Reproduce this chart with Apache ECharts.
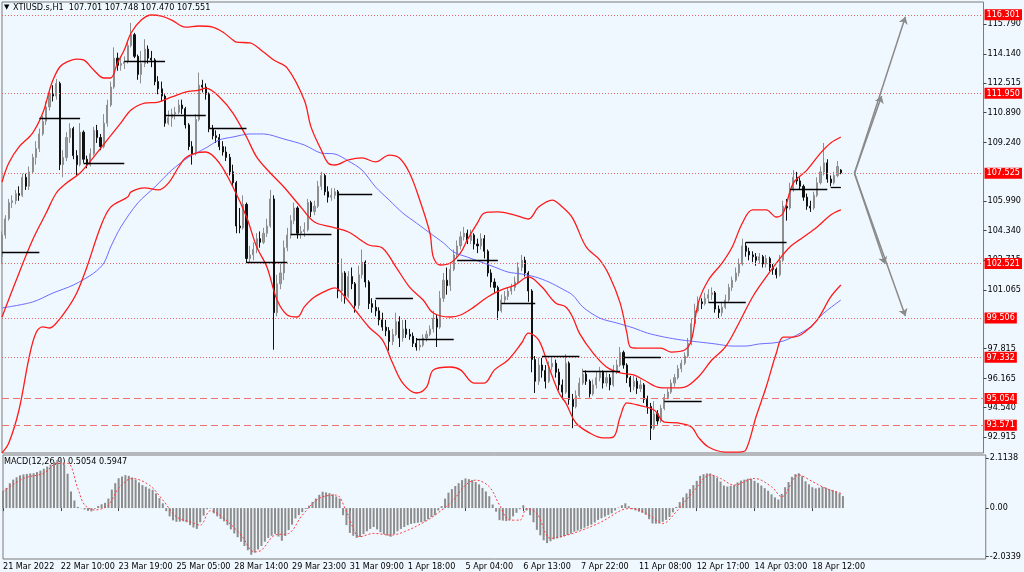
<!DOCTYPE html>
<html><head><meta charset="utf-8">
<script src="https://cdn.jsdelivr.net/npm/echarts@6.0.0/dist/echarts.min.js"></script>
<style>html,body{margin:0;padding:0;background:#f0f8ff}#c{width:1024px;height:572px}</style>
</head><body><div id="c"></div><script>
// ---- data ----
const tickLabels = ['21 Mar 2022','22 Mar 10:00','23 Mar 19:00','25 Mar 05:00','28 Mar 14:00','29 Mar 23:00','31 Mar 09:00','1 Apr 18:00','5 Apr 04:00','6 Apr 13:00','7 Apr 22:00','11 Apr 08:00','12 Apr 17:00','14 Apr 03:00','18 Apr 12:00'];
const priceTicks = [115.790,114.140,112.515,110.890,109.240,105.990,104.340,102.715,101.065,97.815,96.165,94.540,92.915];
const macdTicks = [2.1138,0,-2.0339];
const opens = [
102.9,104.1,105.0,105.9,106.0,106.4,106.3,107.3,106.8,107.6,
108.4,108.9,109.7,110.4,111.2,111.9,111.8,112.5,108.0,108.4,
109.5,110.0,108.5,108.0,109.8,108.3,108.0,108.6,109.9,109.5,
109.0,110.3,111.3,112.3,113.9,113.5,113.6,113.7,114.6,115.2,
114.0,113.0,113.6,114.4,113.9,113.8,112.6,112.2,111.8,110.3,
110.6,110.8,110.9,111.3,111.1,110.2,109.0,108.6,110.5,112.4,
112.3,111.9,110.0,109.6,109.5,109.0,108.7,108.4,107.6,107.0,
104.6,104.5,105.8,102.8,103.0,103.3,103.9,103.7,104.2,104.6,
106.1,99.8,101.4,102.0,103.4,104.1,104.9,105.6,104.2,104.3,
104.4,105.9,105.4,105.7,106.8,107.4,106.5,106.2,106.3,106.5,
101.0,102.0,100.7,101.8,101.4,100.2,101.9,102.6,101.5,100.3,
100.1,99.9,99.4,99.0,98.8,98.2,98.6,99.3,98.4,98.9,
98.6,98.5,98.1,97.9,98.0,98.4,98.6,98.9,99.5,99.0,
100.6,101.6,101.3,102.2,103.0,103.5,104.0,104.2,103.8,104.1,
103.6,103.5,103.9,103.2,102.0,101.5,101.2,99.9,100.5,100.7,
101.0,101.2,101.5,102.3,102.7,102.0,101.0,97.2,96.0,96.9,
96.6,96.0,96.8,97.0,96.5,95.8,95.4,97.0,95.0,94.6,
95.2,95.9,96.4,96.0,95.3,95.8,96.2,96.5,95.9,96.2,
95.8,96.6,96.9,97.6,96.9,96.2,95.7,96.0,95.6,95.8,
95.0,94.6,93.4,94.2,93.8,94.5,95.1,95.4,95.9,96.2,
96.7,97.0,97.4,98.1,99.2,99.9,100.4,100.3,100.6,100.8,
100.9,100.0,99.8,100.1,100.5,101.2,101.6,102.0,102.5,103.5,
103.2,103.0,102.9,102.7,102.9,102.5,102.8,102.3,102.2,101.9,
102.7,105.7,105.6,106.6,107.3,107.1,106.8,106.2,105.7,105.6,
106.3,107.0,107.6,108.1,107.2,107.0,107.4,107.701];
const closes = [
104.1,105.0,105.9,106.0,106.4,106.3,107.3,106.8,107.6,108.4,
108.9,109.7,110.4,111.2,111.9,111.8,112.5,108.0,108.4,109.5,
110.0,108.5,108.0,109.8,108.3,108.0,108.6,109.9,109.5,109.0,
110.3,111.3,112.3,113.9,113.5,113.6,113.7,114.6,115.2,114.0,
113.0,113.6,114.4,113.9,113.8,112.6,112.2,111.8,110.3,110.6,
110.8,110.9,111.3,111.1,110.2,109.0,108.6,110.5,112.4,112.3,
111.9,110.0,109.6,109.5,109.0,108.7,108.4,107.6,107.0,104.6,
104.5,105.8,102.8,103.0,103.3,103.9,103.7,104.2,104.6,106.1,
99.8,101.4,102.0,103.4,104.1,104.9,105.6,104.2,104.3,104.4,
105.9,105.4,105.7,106.8,107.4,106.5,106.2,106.3,106.5,101.0,
102.0,100.7,101.8,101.4,100.2,101.9,102.6,101.5,100.3,100.1,
99.9,99.4,99.0,98.8,98.2,98.6,99.3,98.4,98.9,98.6,
98.5,98.1,97.9,98.0,98.4,98.6,98.9,99.5,99.0,100.6,
101.6,101.3,102.2,103.0,103.5,104.0,104.2,103.8,104.1,103.6,
103.5,103.9,103.2,102.0,101.5,101.2,99.9,100.5,100.7,101.0,
101.2,101.5,102.3,102.7,102.0,101.0,97.2,96.0,96.9,96.6,
96.0,96.8,97.0,96.5,95.8,95.4,97.0,95.0,94.6,95.2,
95.9,96.4,96.0,95.3,95.8,96.2,96.5,95.9,96.2,95.8,
96.6,96.9,97.6,96.9,96.2,95.7,96.0,95.6,95.8,95.0,
94.6,93.4,94.2,93.8,94.5,95.1,95.4,95.9,96.2,96.7,
97.0,97.4,98.1,99.2,99.9,100.4,100.3,100.6,100.8,100.9,
100.0,99.8,100.1,100.5,101.2,101.6,102.0,102.5,103.5,103.2,
103.0,102.9,102.7,102.9,102.5,102.8,102.3,102.2,101.9,102.7,
105.7,105.6,106.6,107.3,107.1,106.8,106.2,105.7,105.6,106.3,
107.0,107.6,108.1,107.2,107.0,107.4,107.9,107.551];
const lows = [
102.5,103.9,104.9,105.6,105.8,106.0,106.2,106.6,106.6,107.5,
108.0,108.7,109.6,110.2,111.0,111.5,111.6,107.7,107.3,108.2,
109.2,108.3,107.4,107.9,108.1,107.8,107.9,108.5,109.2,108.8,
108.9,110.1,111.2,112.2,113.2,113.2,113.3,113.6,114.5,113.9,
112.7,112.5,113.4,113.6,113.4,112.4,111.9,111.5,110.1,110.2,
110.1,110.5,110.8,110.8,110.0,108.8,108.0,108.5,110.4,112.0,
111.6,109.8,109.4,109.2,108.8,108.5,108.2,107.4,106.8,104.2,
104.2,104.4,102.55,102.6,102.7,103.1,103.4,103.6,104.0,104.5,
97.75,99.6,101.1,101.6,103.2,103.9,104.7,103.9,103.9,104.0,
104.3,105.1,105.2,105.6,106.6,106.3,105.9,106.0,106.1,100.6,
100.4,100.3,100.6,101.1,99.8,100.0,101.7,101.2,100.0,99.8,
99.6,99.1,98.8,98.5,97.7,98.0,98.5,97.9,98.2,98.4,
98.3,97.9,97.7,97.7,97.9,98.2,98.5,98.7,97.9,98.9,
100.4,100.8,101.0,102.1,102.8,103.3,103.8,103.6,103.6,103.3,
103.1,103.3,102.8,101.8,101.2,100.9,99.4,99.8,100.3,100.5,
100.8,101.0,101.4,102.1,101.8,100.4,96.5,95.35,95.8,96.2,
95.6,95.9,96.6,96.2,95.5,95.0,95.3,94.7,93.4,94.5,
95.1,95.8,95.8,95.1,95.2,95.6,96.0,95.6,95.7,95.5,
95.7,96.4,96.8,96.7,95.9,95.4,95.5,95.3,95.4,94.8,
94.2,92.75,93.3,93.6,93.7,94.4,95.0,95.3,95.7,96.1,
96.5,96.9,97.3,98.0,99.1,99.8,100.0,100.2,100.4,100.5,
99.8,99.5,99.6,100.0,100.4,101.0,101.5,101.8,102.4,102.9,
102.7,102.6,102.4,102.5,102.3,102.3,102.1,101.9,101.7,101.8,
102.6,104.9,105.5,106.5,106.9,106.6,106.0,105.5,105.38,105.5,
106.2,106.9,107.4,107.0,106.8,106.9,107.3,107.47];
const highs = [
104.3,105.2,106.1,106.3,106.6,106.8,107.5,107.5,107.9,108.6,
109.3,110.0,110.7,111.5,112.2,112.4,112.75,112.6,108.8,109.8,
110.3,110.1,108.8,110.3,109.9,108.5,108.9,110.1,110.2,109.7,
110.8,111.6,112.6,114.5,114.2,113.9,114.0,114.9,115.85,115.3,
114.1,114.3,114.95,114.6,114.3,113.9,112.9,112.6,111.9,111.0,
111.1,111.2,111.6,111.6,111.2,110.3,109.3,110.8,113.1,112.7,
112.5,112.0,110.2,109.9,109.7,109.3,109.0,108.6,108.0,107.1,
105.6,106.3,105.9,103.5,103.7,104.2,104.3,104.5,105.0,106.6,
106.3,101.9,102.5,103.8,104.5,105.2,105.9,105.7,104.6,104.8,
106.1,106.0,106.0,107.1,107.6,107.5,106.8,106.7,106.7,106.6,
102.8,102.1,102.1,102.3,101.5,102.4,103.3,102.7,101.6,100.6,
100.5,100.1,99.8,99.4,99.0,98.9,99.8,99.6,99.4,99.4,
98.9,98.7,98.4,98.3,98.6,98.8,99.1,99.9,99.7,101.0,
102.0,102.3,102.6,103.3,103.8,104.3,104.55,104.4,104.4,104.2,
103.9,104.2,104.1,103.3,102.2,101.7,101.3,100.8,101.0,101.2,
101.4,101.8,102.6,103.0,102.9,102.1,101.1,97.4,97.3,97.3,
96.9,97.1,97.4,97.2,96.7,96.1,97.5,97.1,95.3,95.5,
96.2,96.7,96.6,96.1,96.1,96.5,96.8,96.6,96.5,96.4,
96.9,97.2,97.9,97.7,97.0,96.3,96.3,96.2,96.1,95.9,
95.2,94.8,94.9,94.4,94.7,95.3,95.6,96.1,96.4,96.9,
97.2,97.6,98.4,99.5,100.3,100.7,100.6,100.9,101.1,101.2,
101.0,100.2,100.4,100.8,101.4,101.8,102.3,102.8,103.9,103.7,
103.4,103.2,103.1,103.1,103.0,103.0,102.9,102.5,102.3,103.0,
106.0,106.1,107.0,107.7,107.6,107.3,106.9,106.4,106.0,106.5,
107.3,107.9,109.2,108.3,107.4,107.6,108.2,107.748];
const bbUpper = [[0,107.04],[2,108.09],[5,108.98],[9,109.75],[12,110.86],[14,112.13],[15,112.69],[17,113.41],[19,113.68],[22,113.85],[24,113.80],[27,113.24],[30,112.80],[32,112.80],[34,113.63],[36,114.35],[38,115.29],[41,116.01],[44,116.29],[47,116.23],[50,116.01],[54,115.62],[58,115.68],[62,115.62],[65,115.35],[68,114.90],[69,114.79],[73,114.74],[77,114.24],[80,113.80],[84,113.35],[89,111.58],[91,110.08],[94,108.81],[96,108.09],[98,107.98],[102,108.26],[106,108.37],[110,108.15],[114,108.53],[117,108.37],[120,107.54],[123,106.04],[126,104.21],[127,102.88],[129,102.44],[132,102.55],[135,103.11],[137,103.83],[140,104.77],[142,105.32],[146,105.38],[151,105.21],[155,104.99],[158,105.65],[162,106.04],[165,105.65],[168,105.04],[172,103.44],[176,102.72],[179,101.78],[182,100.34],[184,98.67],[185,97.90],[187,97.84],[192,97.84],[194,97.84],[197,97.62],[201,97.73],[203,98.29],[205,100.34],[208,101.61],[212,102.55],[215,103.44],[218,104.77],[221,105.49],[225,105.49],[228,105.10],[230,105.32],[233,106.98],[237,107.70],[241,108.64],[244,109.20],[247,109.53]];
const bbMiddle = [[0,99.56],[5,101.99],[9,103.83],[13,105.32],[16,106.43],[19,106.98],[23,107.54],[27,108.42],[31,109.37],[35,110.31],[38,111.03],[42,111.41],[46,111.47],[50,111.75],[54,112.02],[58,112.13],[60,112.24],[64,111.75],[68,110.86],[72,109.53],[75,108.42],[79,107.54],[83,106.76],[88,105.65],[92,104.82],[97,104.55],[102,104.27],[108,103.55],[112,103.38],[116,102.33],[120,101.22],[124,100.50],[127,99.78],[132,99.56],[135,99.67],[139,100.12],[143,100.67],[147,101.06],[151,101.33],[155,101.78],[159,101.22],[163,100.34],[166,100.12],[168,99.56],[170,98.67],[174,97.57],[178,96.79],[182,96.46],[186,96.35],[189,96.07],[193,95.68],[197,95.63],[201,95.68],[205,96.24],[209,97.18],[213,97.90],[217,99.23],[221,100.67],[225,101.78],[228,102.55],[232,103.44],[236,103.99],[240,104.55],[244,105.21],[247,105.49]];
const bbLower = [[0,92.03],[2,92.58],[5,94.41],[8,97.34],[10,98.67],[12,99.01],[14,98.95],[16,99.23],[19,99.95],[22,100.89],[25,102.33],[29,104.55],[32,105.65],[37,106.21],[38,106.49],[42,106.71],[46,106.60],[49,106.98],[52,107.87],[54,108.37],[57,108.64],[60,108.70],[64,108.09],[68,106.76],[72,105.10],[75,103.44],[78,102.33],[81,100.50],[84,99.67],[87,99.56],[89,100.12],[92,100.67],[96,101.06],[98,101.17],[101,100.67],[104,99.95],[108,99.01],[112,98.29],[115,97.01],[118,95.90],[122,95.35],[125,95.68],[127,96.63],[132,96.79],[135,96.63],[139,95.90],[142,95.90],[145,96.63],[149,97.18],[153,98.12],[155,98.67],[158,98.29],[161,96.79],[164,95.35],[166,94.80],[169,93.69],[173,93.14],[177,92.86],[180,92.91],[182,94.02],[184,94.80],[187,94.69],[192,94.41],[195,93.74],[199,93.69],[203,93.47],[205,92.91],[208,92.36],[213,92.08],[217,92.08],[219,92.19],[222,94.02],[225,95.68],[228,97.57],[230,98.45],[233,98.45],[236,98.67],[240,99.39],[244,100.67],[247,101.33]];
const maBlue = [[0,100.06],[9,100.39],[15,100.89],[21,101.33],[27,101.99],[30,102.55],[32,103.44],[35,104.55],[40,105.88],[45,106.76],[50,107.70],[55,108.42],[60,108.92],[64,109.37],[68,109.53],[73,109.70],[77,109.70],[83,109.42],[89,109.09],[94,108.64],[98,108.59],[102,108.20],[106,107.70],[110,106.76],[114,106.04],[118,105.32],[122,104.77],[126,104.21],[130,103.66],[133,103.16],[137,102.88],[141,102.61],[145,102.33],[149,102.05],[153,101.94],[157,101.78],[161,101.50],[165,101.11],[168,100.78],[171,100.12],[176,99.50],[181,99.23],[186,98.95],[190,98.67],[195,98.45],[200,98.29],[205,98.18],[210,98.07],[215,97.95],[219,97.95],[223,98.07],[227,98.12],[230,98.23],[234,98.56],[238,99.01],[242,99.78],[247,100.50]];
const pivotStart = [0,11,24,36,48,61,72,85,99,110,122,134,147,159,171,183,195,208,219,232,244];
const pivotEnd   = [11,23,36,48,60,72,84,97,109,121,133,146,157,170,182,194,206,219,231,243,247];
const pivotLevel = [103.16,110.58,108.09,113.74,110.75,110.03,102.61,104.16,106.37,100.61,98.34,102.72,100.34,97.40,96.57,97.34,94.91,100.39,103.71,106.65,106.76];
const dottedLevels = [116.301,111.950,107.525,102.521,99.506,97.332];
const dashedLevels = [95.054,93.571];
const arrowFrom = [251,107.525];
const arrowTo = [[266,116.19],[259,111.80],[260,102.50],[266,99.62]];
const macdHist = [
0.72,0.85,1.05,1.20,1.30,1.38,1.42,1.44,1.46,1.47,
1.52,1.58,1.66,1.75,1.84,1.95,2.03,2.10,1.85,1.45,
0.70,0.32,0.05,-0.01,-0.06,-0.12,-0.14,-0.03,0.09,0.16,
0.22,0.40,0.78,1.05,1.26,1.33,1.39,1.36,1.29,1.20,
1.08,0.97,0.90,0.82,0.77,0.62,0.42,0.20,-0.13,-0.35,
-0.52,-0.58,-0.57,-0.56,-0.60,-0.72,-0.82,-0.88,-0.60,-0.32,
-0.05,-0.02,-0.22,-0.35,-0.46,-0.56,-0.72,-0.90,-1.07,-1.23,
-1.42,-1.60,-1.78,-1.97,-1.88,-1.75,-1.60,-1.42,-1.26,-1.17,
-1.09,-1.20,-1.38,-1.18,-0.93,-0.70,-0.44,-0.30,-0.17,-0.04,
0.10,0.26,0.40,0.56,0.69,0.66,0.63,0.58,0.49,0.40,
-0.30,-0.72,-1.05,-1.17,-1.26,-1.22,-1.10,-0.98,-0.88,-0.80,
-0.90,-1.02,-1.10,-1.16,-1.21,-1.10,-0.98,-0.88,-0.80,-0.72,
-0.67,-0.64,-0.62,-0.60,-0.56,-0.47,-0.38,-0.30,-0.10,0.08,
0.40,0.65,0.80,0.93,1.05,1.18,1.25,1.22,1.18,1.10,
1.00,0.85,0.70,0.50,0.15,-0.15,-0.51,-0.53,-0.55,-0.50,
-0.35,-0.20,-0.05,0.12,-0.10,-0.30,-0.60,-0.92,-1.15,-1.36,
-1.48,-1.40,-1.32,-1.28,-1.24,-1.19,-1.14,-1.08,-1.00,-0.95,
-0.90,-0.83,-0.76,-0.70,-0.61,-0.50,-0.43,-0.36,-0.29,-0.22,
-0.10,0.02,0.12,0.20,0.08,-0.05,-0.10,-0.15,-0.20,-0.28,
-0.47,-0.65,-0.66,-0.65,-0.58,-0.50,-0.38,-0.18,0.05,0.25,
0.45,0.62,0.80,0.97,1.15,1.36,1.43,1.46,1.46,1.37,
1.27,1.12,0.95,0.91,0.94,0.97,1.08,1.16,1.20,1.24,
1.24,1.15,1.06,0.95,0.84,0.73,0.58,0.45,0.36,0.60,
0.88,1.10,1.32,1.43,1.47,1.35,1.13,1.00,0.88,0.83,
0.86,0.90,0.86,0.80,0.76,0.70,0.62,0.5054];
const macdSignal = [[0,0.69],[6,1.25],[12,1.47],[16,1.89],[19,1.89],[22,0.83],[24,0.13],[27,-0.08],[31,0.13],[34,0.83],[38,1.25],[43,0.97],[47,0.34],[51,-0.37],[55,-0.58],[58,-0.72],[61,-0.11],[65,-0.44],[70,-1.14],[74,-1.85],[76,-1.78],[80,-1.14],[84,-1.07],[88,-0.30],[93,0.41],[98,0.55],[101,-0.15],[105,-1.21],[109,-1.07],[114,-1.14],[118,-1.00],[124,-0.58],[127,-0.30],[132,0.27],[136,0.97],[139,1.18],[143,0.90],[146,0.13],[149,-0.51],[152,-0.51],[154,-0.02],[157,-0.22],[161,-1.28],[164,-1.21],[169,-1.00],[176,-0.58],[182,-0.08],[185,-0.02],[190,-0.30],[194,-0.65],[198,-0.15],[203,0.69],[208,1.40],[211,1.25],[215,0.97],[221,1.25],[226,0.90],[229,0.48],[234,1.40],[238,1.12],[242,0.83],[247,0.5947]];
const headerText = 'XTIUSD.s,H1  107.701 107.748 107.470 107.551';
const macdTitle = 'MACD(12,26,9) 0.5054 0.5947';

// ---- chart ----
const SLOTS = 290;
const cats = Array.from({length: SLOTS}, (_, i) => String(i));
const ohlc = opens.map((o, i) => [o, closes[i], lows[i], highs[i]]);
const FONT = "'Liberation Sans Narrow','DejaVu Sans Condensed','Liberation Sans',sans-serif";
const BG = '#f0f8ff';
const isTick = (i) => i % 17 === 0 && i / 17 < tickLabels.length;

const levelLabel = {
  show: true, position: 'end', distance: 1, formatter: '{b}',
  backgroundColor: '#ff0000', color: '#ffffff', fontSize: 9, fontFamily: FONT,
  padding: [1, 2, 0, 2], lineHeight: 10
};
const levelLines = dottedLevels.map(v => ({name: v.toFixed(3), yAxis: v, lineStyle: {type: [1, 2], color: '#e66', width: 1}}))
  .concat(dashedLevels.map(v => ({name: v.toFixed(3), yAxis: v, lineStyle: {type: [7, 4], color: '#f07070', width: 1}})));

const pivotLines = pivotLevel.map((v, k) => [{coord: [pivotStart[k], v]}, {coord: [pivotEnd[k], v]}]);
const arrowLines = arrowTo.map(t => [{coord: arrowFrom}, {coord: t}]);

const chart = echarts.init(document.getElementById('c'), null, {renderer: 'canvas'});
chart.setOption({
  animation: false,
  backgroundColor: BG,
  textStyle: {fontFamily: FONT},
  grid: [
    {left: 2, right: 34, top: 2, height: 451, show: true, borderColor: '#7a7a7a', borderWidth: 1, backgroundColor: BG},
    {left: 2, right: 34, top: 455, height: 104, show: true, borderColor: '#7a7a7a', borderWidth: 1, backgroundColor: BG}
  ],
  xAxis: [
    {type: 'category', gridIndex: 0, data: cats, boundaryGap: false, show: false},
    {type: 'category', gridIndex: 1, data: cats, boundaryGap: false,
     axisLine: {show: false},
     axisTick: {show: true, interval: (i) => isTick(i), length: 3, lineStyle: {color: '#444'}},
     axisLabel: {interval: (i) => isTick(i), formatter: (v, i) => tickLabels[i / 17] || '', align: 'left',
                 fontSize: 9, color: '#000', margin: 3, fontFamily: FONT},
     splitLine: {show: false}}
  ],
  yAxis: [
    {type: 'value', gridIndex: 0, position: 'right', min: 92.027, max: 117.01,
     splitLine: {show: false}, axisLine: {show: false},
     axisTick: {show: true, customValues: priceTicks, length: 3, lineStyle: {color: '#444'}},
     axisLabel: {customValues: priceTicks, formatter: (v) => v.toFixed(3), fontSize: 9, color: '#000', margin: 4, fontFamily: FONT}},
    {type: 'value', gridIndex: 1, position: 'right', min: -2.15, max: 2.24,
     splitLine: {show: false}, axisLine: {show: false},
     axisTick: {show: true, customValues: macdTicks, length: 3, lineStyle: {color: '#444'}},
     axisLabel: {customValues: macdTicks, formatter: (v) => v === 0 ? '0.00' : v.toFixed(4), fontSize: 9, color: '#000', margin: 4, fontFamily: FONT}}
  ],
  series: [
    {type: 'line', xAxisIndex: 0, yAxisIndex: 0, data: [], clip: false, silent: true,
     markLine: {silent: true, symbol: ['none', 'none'], label: levelLabel, data: levelLines}},
    {type: 'line', name: 'MA', xAxisIndex: 0, yAxisIndex: 0, data: maBlue, showSymbol: false, smooth: 0.3,
     lineStyle: {color: '#6c6cff', width: 1}},
    {type: 'candlestick', xAxisIndex: 0, yAxisIndex: 0, data: ohlc, barWidth: 1.6,
     itemStyle: {color: '#9c9c9c', color0: '#111', borderColor: '#8e8e8e', borderColor0: '#111', borderWidth: 1}},
    {type: 'line', name: 'BBU', xAxisIndex: 0, yAxisIndex: 0, data: bbUpper, showSymbol: false, smooth: 0.35,
     lineStyle: {color: '#ff1a1a', width: 1.3}},
    {type: 'line', name: 'BBM', xAxisIndex: 0, yAxisIndex: 0, data: bbMiddle, showSymbol: false, smooth: 0.35,
     lineStyle: {color: '#ff1a1a', width: 1.3}},
    {type: 'line', name: 'BBL', xAxisIndex: 0, yAxisIndex: 0, data: bbLower, showSymbol: false, smooth: 0.35,
     lineStyle: {color: '#ff1a1a', width: 1.3}},
    {type: 'line', xAxisIndex: 0, yAxisIndex: 0, data: [], clip: false, silent: true,
     markLine: {silent: true, symbol: ['none', 'none'], label: {show: false},
                lineStyle: {color: '#000', width: 1.3, type: 'solid'}, data: pivotLines}},
    {type: 'line', xAxisIndex: 0, yAxisIndex: 0, data: [], clip: false, silent: true,
     markLine: {silent: true, symbol: ['none', 'arrow'], symbolSize: 7, label: {show: false},
                lineStyle: {color: '#8a8a8a', width: 1.5, type: 'solid'}, data: arrowLines}},
    {type: 'bar', xAxisIndex: 1, yAxisIndex: 1, data: macdHist, barWidth: 2,
     itemStyle: {color: '#8c8c8c'}},
    {type: 'line', xAxisIndex: 1, yAxisIndex: 1, data: macdSignal, showSymbol: false, smooth: 0.35,
     lineStyle: {color: '#ff3b3b', width: 1, type: [2, 2]}}
  ],
  graphic: [
    {type: 'text', left: 4, top: 4, style: {text: '▼', fontSize: 7, fill: '#000', fontFamily: 'DejaVu Sans'}},
    {type: 'text', left: 13, top: 3, style: {text: headerText, fontSize: 9, fill: '#000', fontFamily: FONT}},
    {type: 'text', left: 4, top: 457, style: {text: macdTitle, fontSize: 9, fill: '#000', fontFamily: FONT}}
  ]
});
</script></body></html>
